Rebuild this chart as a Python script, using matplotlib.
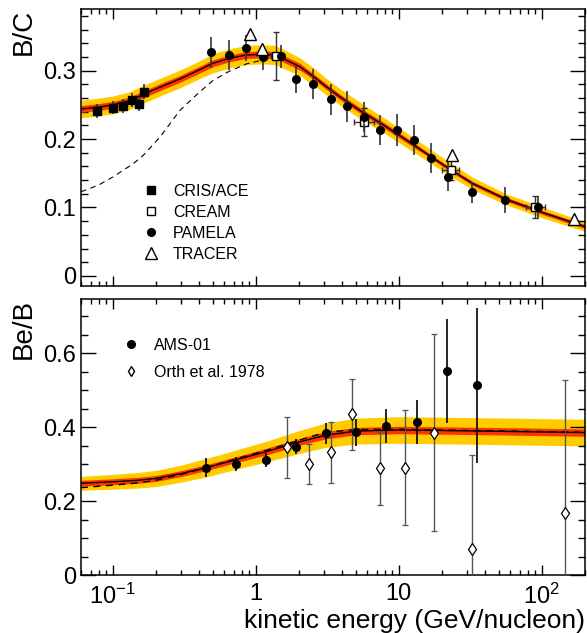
import numpy as np
import matplotlib
matplotlib.use("Agg")
import matplotlib.pyplot as plt
from matplotlib.lines import Line2D
from matplotlib.ticker import FixedLocator, FixedFormatter, LogLocator, MultipleLocator, NullFormatter

plt.rcParams["font.family"] = ["Liberation Sans", "DejaVu Sans"]
plt.rcParams["mathtext.fontset"] = "custom"
plt.rcParams["mathtext.rm"] = "Liberation Sans"
plt.rcParams["mathtext.it"] = "Liberation Sans:italic"

# ---- B/C data ----
cris_e = [0.0777, 0.100, 0.118, 0.136, 0.152, 0.166]
cris_v = [0.241, 0.246, 0.248, 0.257, 0.251, 0.269]
cris_err = [0.010, 0.010, 0.010, 0.010, 0.010, 0.011]

cream_e = [1.38, 5.68, 23.0, 90.2]
cream_v = [0.321, 0.225, 0.155, 0.101]
cream_yerr = [0.035, 0.021, 0.015, 0.016]
cream_xlo = [0.10, 0.85, 2.9, 13.0]
cream_xhi = [0.12, 1.0, 3.3, 15.0]

pamela_e = [0.487, 0.648, 0.851, 1.124, 1.495, 1.92, 2.51, 3.33, 4.34, 5.74, 7.43,
            9.77, 12.85, 16.9, 22.1, 32.4, 55.6, 94.6]
pamela_v = [0.327, 0.323, 0.333, 0.320, 0.321, 0.288, 0.280, 0.258, 0.248, 0.232, 0.213,
            0.213, 0.199, 0.173, 0.145, 0.122, 0.111, 0.100]
pamela_err = [0.023, 0.022, 0.019, 0.019, 0.017, 0.021, 0.022, 0.023, 0.023, 0.022, 0.022,
              0.023, 0.022, 0.022, 0.021, 0.015, 0.019, 0.017]

tracer_e = [0.908, 1.11, 23.5, 167.0]
tracer_v = [0.354, 0.332, 0.177, 0.083]

# model B/C with uncertainty bands
bc_e = [0.06, 0.08, 0.1, 0.13, 0.166, 0.22, 0.295, 0.40, 0.503, 0.65, 0.86, 1.12, 1.35,
        1.54, 2.03, 2.51, 3.1, 3.86, 5.61, 7.5, 10, 16.9, 22.7, 32.9, 56.3, 100, 200]
bc_model = [0.244, 0.247, 0.250, 0.256, 0.266, 0.277, 0.288, 0.301, 0.311, 0.318, 0.323,
            0.324, 0.323, 0.318, 0.306, 0.292, 0.277, 0.262, 0.239, 0.223, 0.206, 0.174,
            0.156, 0.135, 0.112, 0.093, 0.072]
bc_yel = [0.013, 0.013, 0.013, 0.013, 0.013, 0.013, 0.013, 0.013, 0.014, 0.014, 0.014,
          0.014, 0.014, 0.014, 0.013, 0.013, 0.012, 0.012, 0.012, 0.011, 0.011, 0.010,
          0.010, 0.009, 0.008, 0.008, 0.007]
bc_red = [0.005, 0.005, 0.005, 0.005, 0.005, 0.005, 0.005, 0.005, 0.005, 0.005, 0.005,
          0.005, 0.005, 0.005, 0.005, 0.004, 0.004, 0.004, 0.004, 0.004, 0.004, 0.003,
          0.003, 0.003, 0.003, 0.003, 0.003]
bc_dash_e = [0.06, 0.08, 0.101, 0.139, 0.163, 0.214, 0.295, 0.40, 0.504, 0.65, 0.861,
             1.19, 1.39]
bc_dash = [0.123, 0.133, 0.145, 0.164, 0.176, 0.203, 0.242, 0.268, 0.286, 0.299, 0.310,
           0.317, 0.321]

# ---- Be/B data ----
ams_e = [0.448, 0.725, 1.17, 1.90, 3.08, 5.05, 8.18, 13.3, 21.6, 35.1]
ams_v = [0.290, 0.300, 0.311, 0.347, 0.383, 0.386, 0.403, 0.414, 0.551, 0.513]
ams_err = [0.025, 0.020, 0.018, 0.020, 0.029, 0.036, 0.047, 0.060, 0.140, 0.210]

orth_e = [1.66, 2.36, 3.34, 4.73, 7.34, 11.0, 17.7, 32.6, 144.5]
orth_v = [0.345, 0.300, 0.332, 0.434, 0.288, 0.290, 0.385, 0.070, 0.168]
orth_err = [0.083, 0.054, 0.082, 0.095, 0.099, 0.155, 0.267, 0.254, 0.360]

beb_e = [0.06, 0.1, 0.15, 0.2, 0.3, 0.448, 0.7, 1.17, 2.03, 3.08, 5.05, 10, 26.5, 200]
beb_model = [0.248, 0.252, 0.256, 0.261, 0.274, 0.290, 0.310, 0.333, 0.360, 0.378, 0.389,
             0.392, 0.390, 0.385]
beb_yel = [0.019, 0.020, 0.021, 0.022, 0.023, 0.025, 0.026, 0.028, 0.031, 0.033, 0.035,
           0.036, 0.036, 0.036]
beb_red = [0.008, 0.008, 0.008, 0.008, 0.008, 0.008, 0.008, 0.009, 0.009, 0.010, 0.010,
           0.010, 0.010, 0.010]
beb_dash = [0.236, 0.243, 0.249, 0.256, 0.272, 0.290, 0.312, 0.336, 0.365, 0.386, 0.393,
            0.394, 0.391, 0.386]

YELLOW = "#ffcc00"
RED = "#ff3300"
ERRC = "#333333"

fig = plt.figure(figsize=(5.87, 6.33), dpi=100)
ax1 = fig.add_axes([0.138, 0.548, 0.8585, 0.4375])
ax2 = fig.add_axes([0.138, 0.0916, 0.8585, 0.436])


def style_axis(ax, major_y, minor_y):
    ax.set_xscale("log")
    ax.set_xlim(0.06, 200)
    ax.xaxis.set_major_locator(FixedLocator([0.1, 1, 10, 100]))
    ax.xaxis.set_minor_locator(LogLocator(base=10, subs=np.arange(2, 10)))
    ax.xaxis.set_minor_formatter(NullFormatter())
    ax.yaxis.set_major_locator(MultipleLocator(major_y))
    ax.yaxis.set_minor_locator(MultipleLocator(minor_y))
    ax.tick_params(axis="both", which="both", direction="in", top=True, right=True,
                   width=1.0, labelsize=17, color="black")
    ax.tick_params(axis="y", which="major", length=11)
    ax.tick_params(axis="y", which="minor", length=5)
    ax.tick_params(axis="x", which="major", length=7)
    ax.tick_params(axis="x", which="minor", length=3.8)
    for s in ax.spines.values():
        s.set_linewidth(1.1)


def marker_handle(marker, filled, ms):
    return Line2D([], [], ls="none", marker=marker, ms=ms, mec="black",
                  mfc="black" if filled else "white", mew=1.0)


# ---------------- top panel ----------------
e = np.array(bc_e)
m = np.array(bc_model)
ax1.fill_between(e, m - np.array(bc_yel), m + np.array(bc_yel), color=YELLOW, lw=0, zorder=1)
ax1.fill_between(e, m - np.array(bc_red), m + np.array(bc_red), color=RED, lw=0, zorder=2)
ax1.plot(e, m, color="black", lw=1.0, zorder=3)
ax1.plot(bc_dash_e, bc_dash, color="black", lw=0.8, ls=(0, (5, 4)), zorder=3)

ax1.errorbar(cris_e, cris_v, yerr=cris_err, fmt="s", color="black", ms=5.5,
             ecolor=ERRC, elinewidth=1.2, capsize=0, zorder=5)
ax1.errorbar(cream_e, cream_v, yerr=cream_yerr, xerr=[cream_xlo, cream_xhi], fmt="s",
             mfc="white", mec="black", color="black", ms=6, ecolor=ERRC, elinewidth=1.0,
             capsize=2, zorder=5)
ax1.errorbar(pamela_e, pamela_v, yerr=pamela_err, fmt="o", color="black", ms=5.5,
             ecolor=ERRC, elinewidth=1.2, capsize=0, zorder=6)
ax1.plot(tracer_e, tracer_v, "^", mfc="white", mec="black", ms=8, mew=1.0, zorder=7,
         ls="none")

style_axis(ax1, 0.1, 0.02)
ax1.set_ylim(-0.015, 0.39)
ax1.set_yticks([0, 0.1, 0.2, 0.3])
ax1.set_yticklabels(["0", "0.1", "0.2", "0.3"])
ax1.tick_params(axis="x", labelbottom=False)
ax1.set_ylabel("B/C", fontsize=20, loc="top")
ax1.yaxis.set_label_coords(-0.088, 1.0)

h1 = [marker_handle("s", True, 5.5), marker_handle("s", False, 6),
      marker_handle("o", True, 5.5), marker_handle("^", False, 8)]
ax1.legend(h1, ["CRIS/ACE", "CREAM", "PAMELA", "TRACER"], loc="upper left",
           bbox_to_anchor=(0.10, 0.41), frameon=False, fontsize=11.5, handlelength=1.0,
           handletextpad=0.9, labelspacing=0.38, borderpad=0.2)

# ---------------- bottom panel ----------------
e2 = np.array(beb_e)
m2 = np.array(beb_model)
ax2.fill_between(e2, m2 - np.array(beb_yel), m2 + np.array(beb_yel), color=YELLOW, lw=0, zorder=1)
ax2.fill_between(e2, m2 - np.array(beb_red), m2 + np.array(beb_red), color=RED, lw=0, zorder=2)
ax2.plot(e2, m2, color="black", lw=1.0, zorder=3)
ax2.plot(e2, beb_dash, color="black", lw=1.0, ls=(0, (5, 4)), zorder=3)

ax2.errorbar(ams_e, ams_v, yerr=ams_err, fmt="o", color="black", ms=5.5,
             ecolor="black", elinewidth=1.2, capsize=0, zorder=6)
ax2.errorbar(orth_e, orth_v, yerr=orth_err, fmt="d", mfc="white", mec="black",
             color="black", ms=6, mew=0.9, ecolor="#555555", elinewidth=1.0, capsize=2.5,
             zorder=5)

style_axis(ax2, 0.2, 0.05)
ax2.set_ylim(0, 0.746)
ax2.set_yticks([0, 0.2, 0.4, 0.6])
ax2.set_yticklabels(["0", "0.2", "0.4", "0.6"])
ax2.xaxis.set_major_formatter(FixedFormatter([r"$10^{-1}$", "1", "10", r"$10^{2}$"]))
ax2.tick_params(axis="x", which="major", pad=6)
ax2.set_ylabel("Be/B", fontsize=20, loc="top")
ax2.yaxis.set_label_coords(-0.088, 1.0)
ax2.set_xlabel("kinetic energy (GeV/nucleon)", fontsize=19, loc="right", labelpad=0)

h2 = [marker_handle("o", True, 5.5), marker_handle("d", False, 5)]
ax2.legend(h2, ["AMS-01", "Orth et al. 1978"], loc="upper left",
           bbox_to_anchor=(0.062, 0.90), frameon=False, fontsize=11.5, handlelength=1.0,
           handletextpad=0.9, labelspacing=0.75, borderpad=0.2)

fig.savefig("out.png", dpi=100)
